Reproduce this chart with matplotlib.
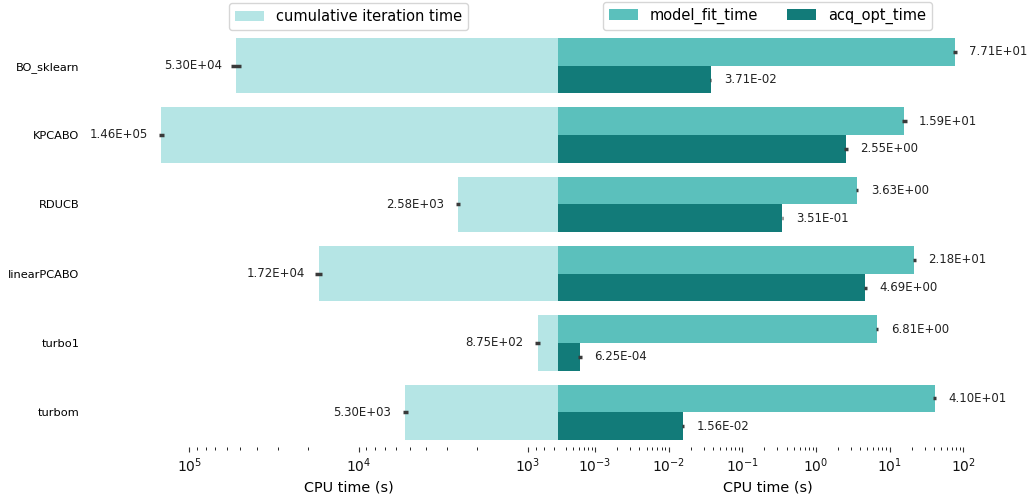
import numpy as np
import matplotlib
matplotlib.use("Agg")
import matplotlib.pyplot as plt

# Data
methods = ['BO_sklearn', 'KPCABO', 'RDUCB', 'linearPCABO', 'turbo1', 'turbom']
cum_time = [5.30e4, 1.46e5, 2.58e3, 1.72e4, 8.75e2, 5.30e3]
cum_err = [3.5e3, 5.0e3, 0.8e2, 0.8e3, 0.3e2, 2.0e2]
fit_time = [77.1, 15.9, 3.63, 21.8, 6.81, 41.0]
fit_err = [5.0, 1.2, 0.15, 1.2, 0.2, 2.0]
acq_time = [3.71e-2, 2.55, 3.51e-1, 4.69, 6.25e-4, 1.56e-2]
acq_err = [1.0e-3, 0.15, 0.01, 0.25, 0.4e-4, 0.5e-3]

c_cum = '#b5e5e5'
c_fit = '#5bc0bc'
c_acq = '#127b79'
c_err = '#3a3a3a'

fig = plt.figure(figsize=(10.35, 5), dpi=100)
ax_l = fig.add_axes([0.1343, 0.106, 0.4048, 0.832])
ax_r = fig.add_axes([0.5391, 0.106, 0.4048, 0.832])

y = np.arange(len(methods))

# left: cumulative iteration time, axis reversed
l_lo, l_hi = 664, 1.98e5
ax_l.set_xscale('log')
ax_l.barh(y, np.array(cum_time) - l_lo, left=l_lo, height=0.8, color=c_cum,
          label='cumulative iteration time')
ax_l.errorbar(cum_time, y, xerr=cum_err, fmt='none', ecolor=c_err, elinewidth=2.5)
for yi, v in zip(y, cum_time):
    ax_l.annotate(f'{v:.2E}', (v, yi), xytext=(-10, 0), textcoords='offset points',
                  ha='right', va='center', fontsize=8.5, color='#222222')
ax_l.set_xlim(l_hi, l_lo)
ax_l.set_ylim(5.5, -0.5)
ax_l.set_yticks(y)
ax_l.set_yticklabels(methods, fontsize=8.2)
ax_l.tick_params(axis='y', length=0, pad=43)
ax_l.tick_params(axis='x', labelsize=10, colors='#333333')
ax_l.set_xlabel('CPU time (s)', fontsize=10.4)
for s in ax_l.spines.values():
    s.set_visible(False)
ax_l.legend(loc='lower center', bbox_to_anchor=(0.5, 1.0), borderaxespad=0.1,
            fontsize=10.5)

# right: model fit / acquisition optimisation times
r_lo, r_hi = 6.25e-4 * 0.5, 77.1 * 2
ax_r.set_xscale('log')
h = 0.4
ax_r.barh(y - h / 2, np.array(fit_time) - r_lo, left=r_lo, height=h, color=c_fit,
          label='model_fit_time')
ax_r.barh(y + h / 2, np.array(acq_time) - r_lo, left=r_lo, height=h, color=c_acq,
          label='acq_opt_time')
ax_r.errorbar(fit_time, y - h / 2, xerr=fit_err, fmt='none', ecolor=c_err, elinewidth=2.5)
ax_r.errorbar(acq_time, y + h / 2, xerr=acq_err, fmt='none', ecolor=c_err, elinewidth=2.5)
for yi, v in zip(y, fit_time):
    ax_r.annotate(f'{v:.2E}', (v, yi - h / 2), xytext=(10, 0), textcoords='offset points',
                  ha='left', va='center', fontsize=8.5, color='#222222')
for yi, v in zip(y, acq_time):
    ax_r.annotate(f'{v:.2E}', (v, yi + h / 2), xytext=(10, 0), textcoords='offset points',
                  ha='left', va='center', fontsize=8.5, color='#222222')
ax_r.set_xlim(r_lo, r_hi)
ax_r.set_ylim(5.5, -0.5)
ax_r.set_yticks([])
ax_r.tick_params(axis='x', labelsize=10, colors='#333333')
ax_r.set_xlabel('CPU time (s)', fontsize=10.4)
for s in ax_r.spines.values():
    s.set_visible(False)
ax_r.legend(loc='lower center', bbox_to_anchor=(0.5, 1.0), borderaxespad=0.1,
            fontsize=10.5, ncol=2, columnspacing=2.0)

for ax in (ax_l, ax_r):
    for lab in ax.get_xticklabels():
        lab.set_color('#111111')

fig.savefig('out.png', dpi=100)
